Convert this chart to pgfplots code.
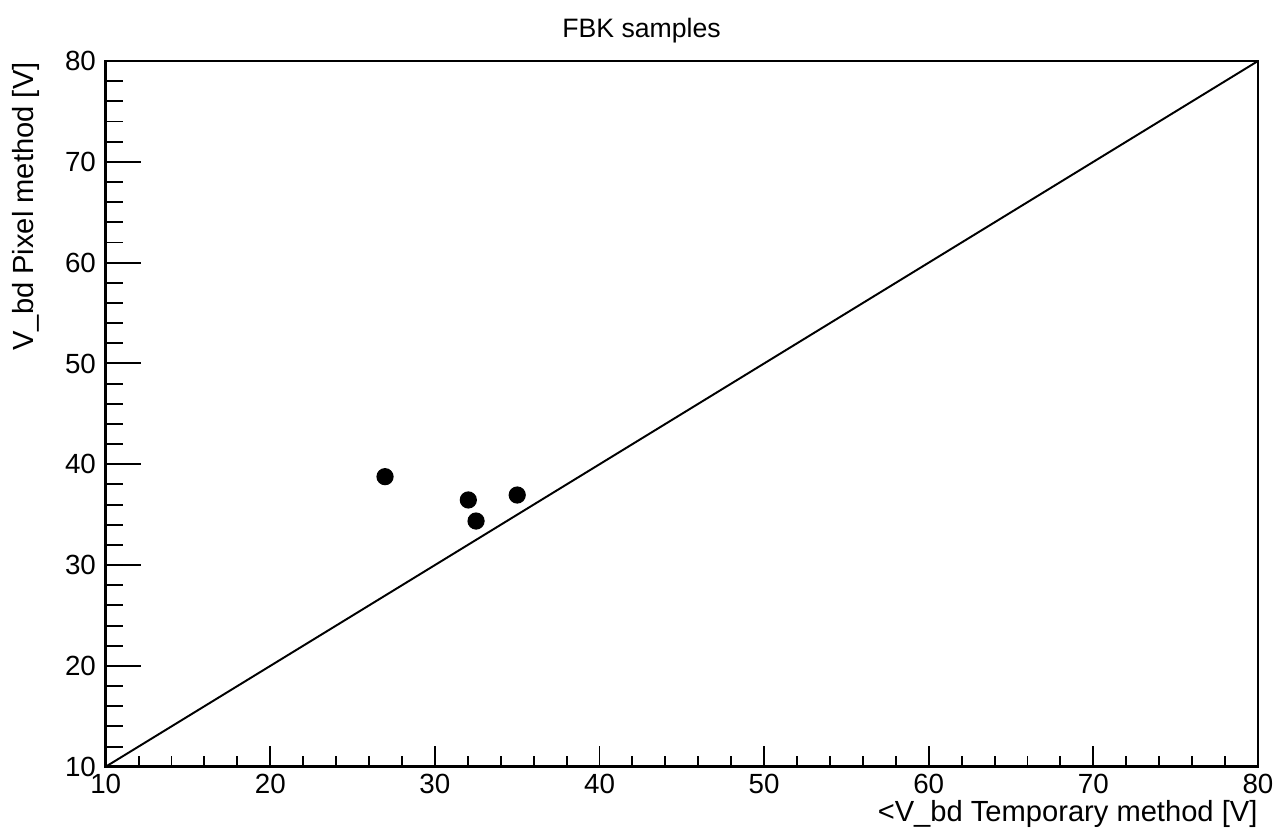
\documentclass[border=0pt]{standalone}
\usepackage{fontspec}
\setmainfont{Liberation Sans}
\usepackage{pgfplots}
\pgfplotsset{compat=1.18}

\begin{document}
\begin{tikzpicture}
\fontsize{10}{12}\selectfont
% invisible frame giving the page its size (1276x830 px at 2.774 px/pt)
\path[use as bounding box] (-38.1pt,-22.8pt) rectangle (421.9pt,276.4pt);
\begin{axis}[
    at={(0,0)}, anchor=origin,
    scale only axis,
    width=415.4pt, height=254.4pt,
    xmin=10, xmax=80, ymin=10, ymax=80,
    xtick={10,20,...,80}, ytick={10,20,...,80},
    minor x tick num=4, minor y tick num=4,
    tick align=inside, tick pos=left,
    xtick style={/pgfplots/major tick length=7.5pt, /pgfplots/minor tick length=3.7pt},
    ytick style={/pgfplots/major tick length=12.6pt, /pgfplots/minor tick length=6.4pt},
    axis line style={line width=0.9pt},
    every tick/.style={black, line width=0.7pt},
    /pgf/number format/assume math mode=true,
    tick label style={font=\fontsize{10}{12}\selectfont},
    xticklabel style={yshift=1pt},
    clip=false,
]
\addplot[black, line width=0.7pt] coordinates {(10,10) (80,80)};
\addplot[only marks, mark=*, mark size=2.9pt, black] coordinates {
    (26.97,38.77) (32.03,36.46) (32.5,34.37) (35.0,36.95)
};
\end{axis}
\node[font=\fontsize{10.5}{12}\selectfont, anchor=base east, inner sep=0pt] at (415.4pt,-19.8pt) {<V\_bd Temporary method [V]};
\node[font=\fontsize{10.5}{12}\selectfont, anchor=base east, rotate=90, inner sep=0pt] at (-26.2pt,254.1pt) {V\_bd Pixel method [V]};
\node[font=\fontsize{9.6}{11}\selectfont, anchor=base, inner sep=0pt] at (193.2pt,263pt) {FBK samples};
\end{tikzpicture}
\end{document}
